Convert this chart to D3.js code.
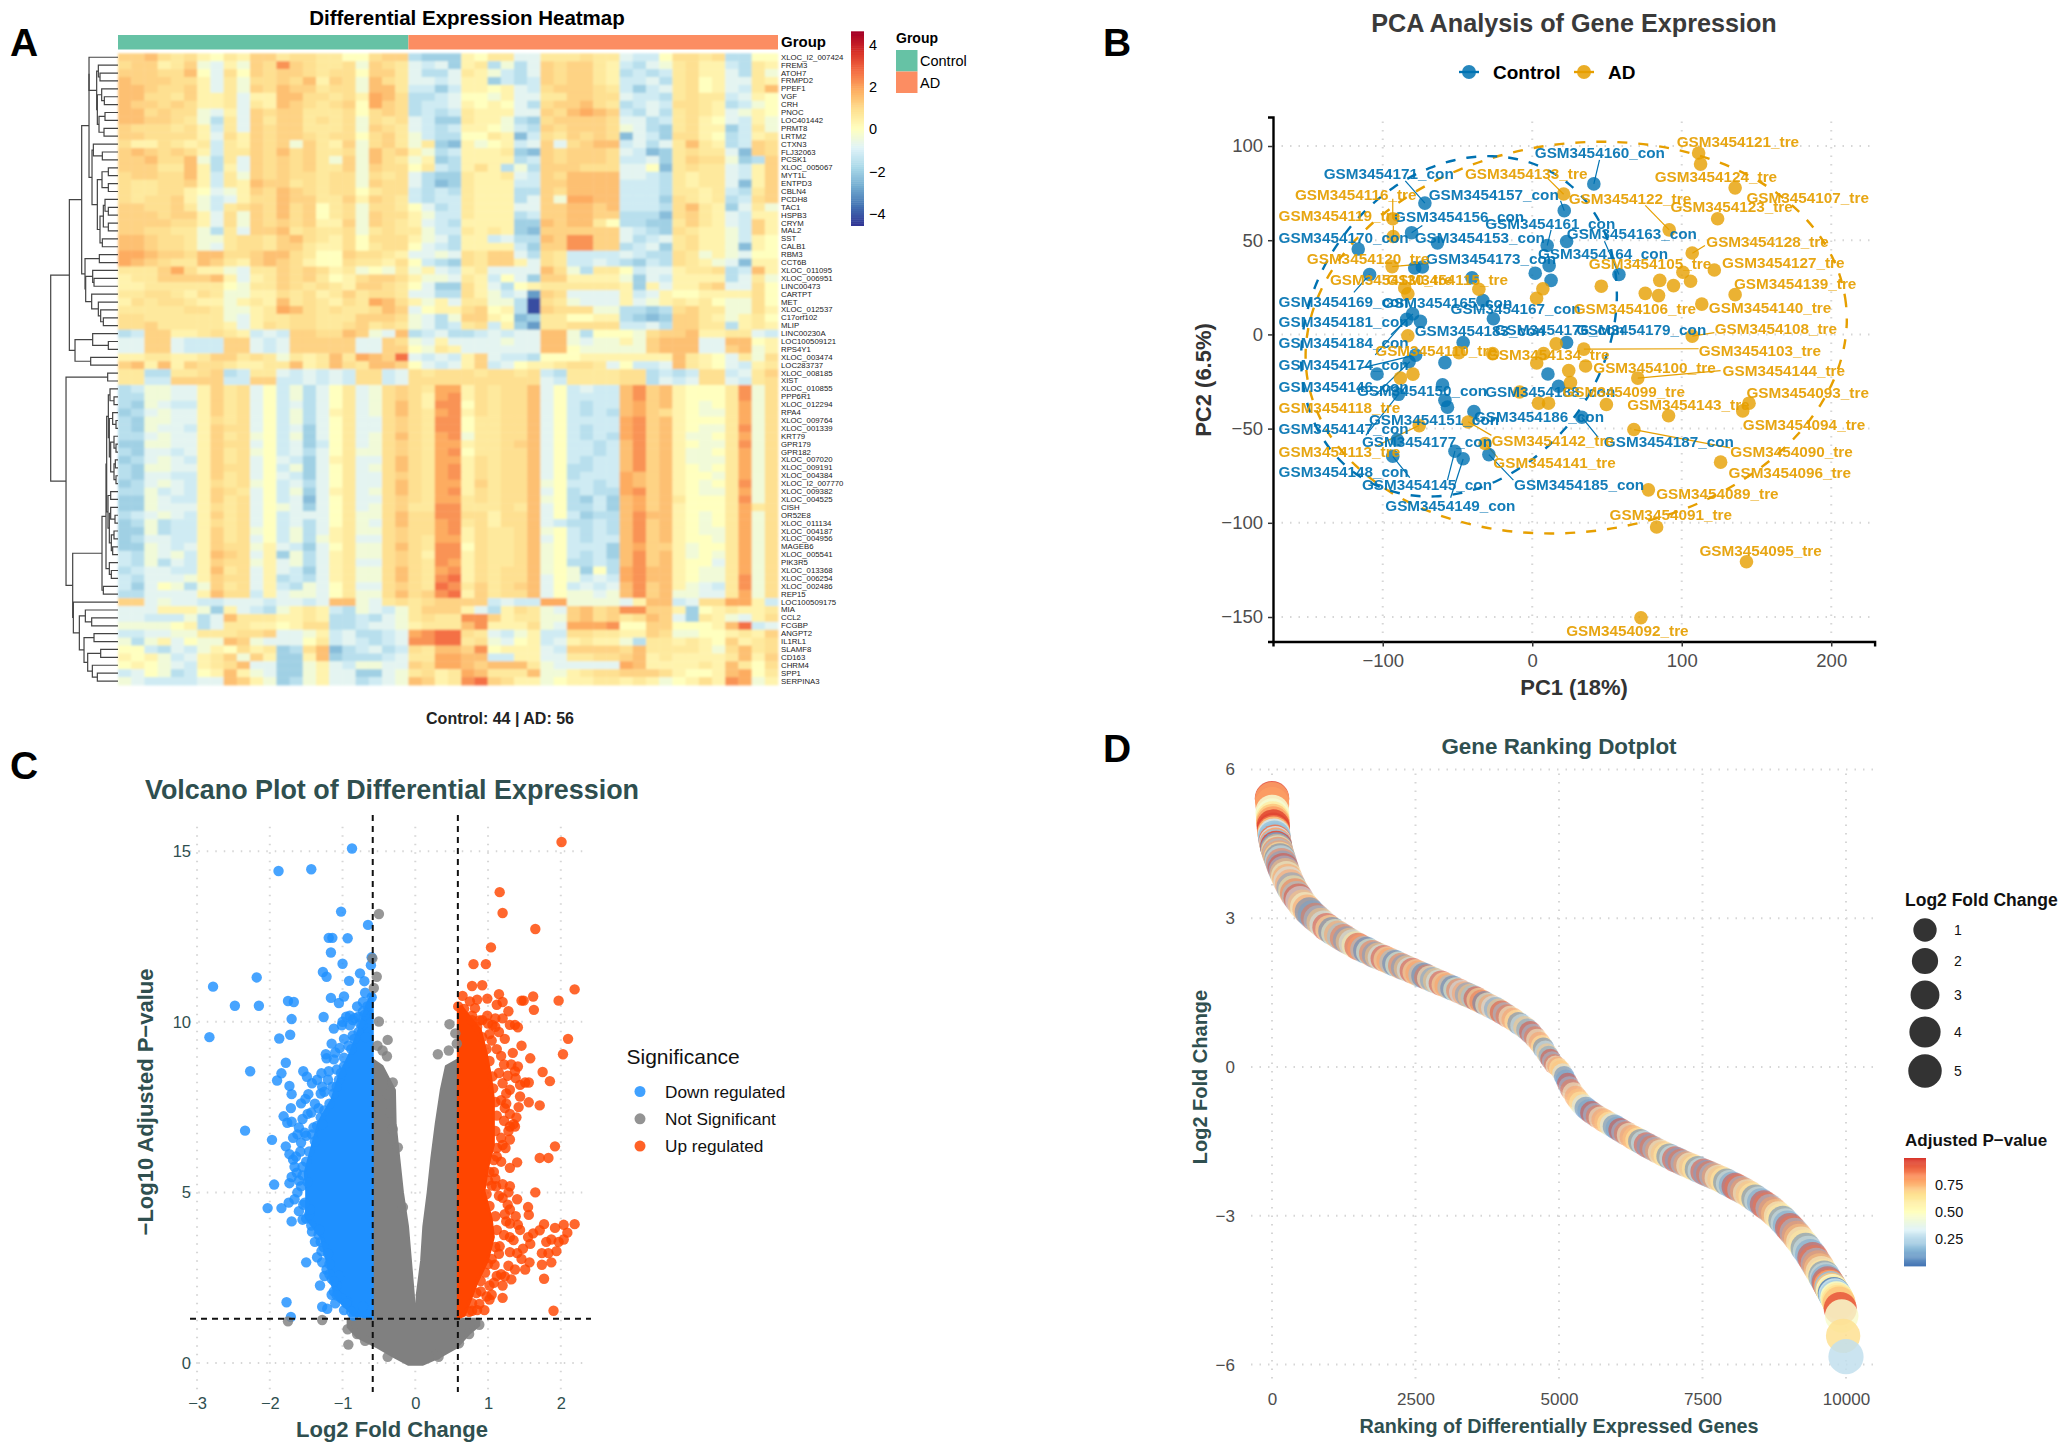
<!DOCTYPE html>
<html>
<head>
<meta charset="utf-8">
<script src="https://cdn.jsdelivr.net/npm/d3@7"></script>
<style>
html,body{margin:0;padding:0;background:#fff}
text{font-family:"Liberation Sans",Arial,sans-serif}
</style>
</head>
<body>
<svg id="fig" width="2065" height="1453" viewBox="0 0 2065 1453"></svg>
<script>
/* ---------- Panel A: heatmap ---------- */
const geneNames = ["XLOC_I2_007424","FREM3","ATOH7","FRMPD2","PPEF1","VGF","CRH","PNOC","LOC401442","PRMT8","LRTM2","CTXN3","FLJ32063","PCSK1","XLOC_005067","MYT1L","ENTPD3","CBLN4","PCDH8","TAC1","HSPB3","CRYM","MAL2","SST","CALB1","RBM3","CCT6B","XLOC_011095","XLOC_006951","LINC00473","CARTPT","MET","XLOC_012537","C17orf102","MLIP","LINC00230A","LOC100509121","RPS4Y1","XLOC_003474","LOC283737","XLOC_008185","XIST","XLOC_010855","PPP6R1","XLOC_012294","RPA4","XLOC_009764","XLOC_001339","KRT79","GPR179","GPR182","XLOC_007020","XLOC_009191","XLOC_004384","XLOC_I2_007770","XLOC_009382","XLOC_004525","CISH","OR52E8","XLOC_011134","XLOC_004187","XLOC_004956","MAGEB6","XLOC_005541","PIK3R5","XLOC_013368","XLOC_006254","XLOC_002486","REP15","LOC100509175","MIA","CCL2","FCGBP","ANGPT2","IL1RL1","SLAMF8","CD163","CHRM4","SPP1","SERPINA3"];
const heatCodes = "abcdefghijklmnopq";
const heatValues = [-4.2,-3,-2.4,-2,-1.6,-1.2,-.8,-.4,0,.35,.65,.9,1.15,1.5,1.85,2.2,2.7];
const heatRows = [
"mmnlkl jikj mmkllkkiilmm eddd jikk gg kkklkk gffi llkl ee ii",
"lmmjkm hgjh mlpmlkklhmlk gfgd jkeh eg mlmmkj fegh kljj fe kj",
"mmmlln igli mlmmlkllimmk geeg kjhf eg mlmmkj efef kljj ge kh",
"nmmmll jgkh llmlnjmlhnlk ggfg jjdf ef mlmmkj ffge klij gg kj",
"nnmllm jgkh mlnmmkllhnnk ffdf jjij gf lmmmlk fdfg klij gf kn",
"nnllkm jjkg jjnnllkljonl eefg iihj gg kkmmll gffe klkk fg ji",
"nmmlml jjkg kjnmlklmioml effg jiji ge lmmnlk efgf llkj ef hi",
"nnlmll hgjg mlmmkkklilml efef kjjj gg mlnonm fege klkj gh ji",
"nnmmlk hekg mkmmklklhlkl gfdd kjjh ed lmmmml ggef klji gf jh",
"mlllkl jfkg mlmmkkklhmlk gfef jjih fe mlmmml hged kljj df kh",
"mmllll jglj mlmmlkllilmk hfee iikj cf lkmlml cgfd llji ef jk",
"ljjlkj kfkj mlmhmkjmhlmk hkdc jhij fg mglmnn fgeg knkj ef ml",
"mnmlml jfkk mlnlmkklhnlm jhef jjjk dc mlmmml gfcd klkk gc ml",
"mmnlln hekg mlmlmkhmhnlk hjde jjjj ef mlmmml ffgd kmll hd em",
"mmmkkn jejg mlmlmkkmhmll ikfe jlje he mmmlll ggic klkk gf jm",
"lmmlln jfkh mlmllkllhlkl gedd kjjk gf mlnnnn ggfe kjkk gf jm",
"lkkllm jfkj nmmklkllhmll gecd kjjj ff mmnnnn fffe kjkk gc jm",
"lkkllj ighj mlnmlkllikll fefe kjjj ee mlnnnn fffe kkjk fe km",
"lkllmj hfgj llnmmkkmjmlk feff kjjj eg mhoonn fffd lkjk ef lm",
"mmllmk hfkl mlnlmiklhllk igef kjjj gg mmnnmn fffe lnkj dg kh",
"mmmlmm jglh mlnlmiklhmll jhff kjjj ef mmnnmm eeec lmkj gf jj",
"mmmmll jglh mlmlmjjmhmlk jgfe jjjj dd nmnnki eedd kmkj gf mj",
"mmllkk hekg mmnklkklhklk khff kjkj dc mmmmmm gfed lkjj hf mj",
"nnmllk hhkl lkmnlkjlilll jhge jjfg ee nmppmm gefg kljj hf ji",
"nnmllk hgkl lkmmkjjlikll igfe jjjj fd mmppmm efgd kljj hc ji",
"oonmml nnll mnnlkiimllkj gghg lkmm ge lkffff gfee lkhj hg ii",
"onmlkk nmkj mnmljiilkkjl ifed lkmm jg lkffgf edfe lkjh gc jj",
"kkkmol jjhg kkmlmljkhihk hjgf jkgg gg nlhekk ifgg jkkl ef nj",
"jkkmmm mnjg jkmlmkijlmml jhhg kjfi gd mmjjjj hdgf jjjj eg kh",
"jjkkkk kkih kkmlklkjmmlk igdd ljge ij kkkkkk jdjg jjlm gg li",
"kkllkj lkhh jjlkljkmkllk ggee ljhf gb mlgggg jfgj iijj jj li",
"jlkllk jjhj kjnklkjlkonl jhjg kkhh ea lkhggg jghj kjki hh li",
"kkkkkl lkhh jkonlklkklnm gijj lmij ea mlllhh eede lmkk hh lj",
"llkkkk kkhg jkkllkkkmmml hgeh mmji cd kkiijj edcd mmkj hj ki",
"llmkkk kkjg jlkllkklmklk hgef klfj db kkllll ffge mmkk ej kj",
"efmmjj klkj fgfmmllnmhgn efge efgf gg nnheii ihlm mnjj kk gf",
"ggmmgf ffmm gfgmmmmmggml hgjg gggh gg nnhghh jhmn nngg nn ij",
"ggmmgf ffmm gfgmmmmmggmm ihkj gggg gg nnihhh hhmn nngg mn hj",
"jjkkjj kmmk lkhkjknkonmq gfgf jmgf fe iiijjj jjjj nkji gk hl",
"mnjnjm llkj jkknjknlknnm igfg jmfg ij jkllkg iffg nkji gf jk",
"kkeekk lmef kkgfgfgfllfg lkll lkll kl fekkkk llef efll fg km",
"kkffmm mmff mmffgfgfllfg llll llll ll gfkkkk lleg fgll gf kl",
"efhhgg jmkl gifhegikghlm lkoo jlkl ln gifgff npmn jiii kp hl",
"eehhgg jmkl gifhegikghlm ljop jlkl ln giffff npmn jiii kp hl",
"edhgff jmkl gifgegikghln ljpp ilkl ln gifeff nomn jihi ko hl",
"deghgg jmkl gifhegjkghln lkop jlkl ln gifefe noml jihh ko hl",
"edhhgg jlkl gifhegikgglm lkpp ikkl ln giffff opmn jiii ko hl",
"edhggf jmll gifgdgikgglm lkpp ikkl ln gifeff opmn jihh kp hl",
"eeghgg jmkl hifhdgikghln lkop hkkl ln gifefe opmn jhhi ko hl",
"ddhhgg jmll gifgdfikghlm lkoo jkkl mn giffef npmn jihh kp hl",
"edggfg jmkl hifgegikhhlm lkop ikkl ln giffef npmn jhhi ko hl",
"deghgf jmkl gigfdgjkggln lkoo jlkl ln gifeff npmn jhhh ko hl",
"edhhgg jmll gifhdgikghln lkop jlkl ln gieeff npmn jihi ko hl",
"edggff jmkl gigfdgikgglm lkop jlkl ln giefff onmn jiih ko hl",
"deghgf jlkl hifgegikggln lkoo jmkl ln hiffef onmn jihi kp hl",
"eehfgf jmlk gifhdgjkghln lkop jlkl ln giefee opmn jihh ko hl",
"ddhgff jmkl gifgcgikgglm lkoo klkl ln hiedfd nomn kiii kp hl",
"ddhggg jlkl gihgdgikghlm kkpp kkkl kn gieefd nomn jiii ko kl",
"efghgf jmkl gifgggikhhln llpp lljl ln gifdee npnn jihi ko hl",
"deheff jlkl gifgegikhgln llop kljl ln gfeefe npmn jihi ko hl",
"ddheff jmkl hifhegjkhhlm llop jlkk ln hifefe npmn jihh ko hl",
"deggff jmkl gifhehjkgglm lkoo jlkk ln gifeff npmn jiih ko hl",
"ddhgfg jmll hjgfdgikhhln lkpp ilkk ln hifffd nomm jhii ko hl",
"fehghf jnml gjdhegjkhhlm ljpp jlkk ln hifefd npmn jhih ko hl",
"fehegf jmll hjghegjkgglm lkpo jlkk ln hieefe npmn jiig ko hl",
"efggff jnkl gjgfdgjkhhln lkop jlkl ln hihdie opnn jihh ko hl",
"fegggh jmll gjefegjkhhln lkpq jlkl ln gihfgf opnn jihh kp hl",
"fdgihe hmkl gjfehgikgglm lkqp kmkl mn gifgfg npmn jhgf kp hl",
"eegggg jnll fjghhgikhhln lmpq jmkl ln gihhgh npmn hhgg ko hl",
"mmghgg ffgg gfggfgnnhgkl klmm mmfg ff oohhhh gjnn fgll oo jf",
"gggjjj hdjg fehjkjfehgfh kmmm jgej lk hgmnlm ppmm jdij kj jk",
"ggfffh egnk kkjjkjeefegh klkk ppmj kk hhmnlm klnm gdkj hg jl",
"hhhhij egkk jjijlleefggh jkkk npjj jl hgooop iimm iiij nq fg",
"ffgghh kkkl lmgghjfgeefg opqq lkgf hj ffllkk jjml hhii jk jm",
"hehjgi hhnm hgggikfgfefg ppqq klhg ij fgjkjj hekk jkji mj kl",
"iifegf hjil jkdelncefgef lknn mpij jj gfmmmm lnkk kkjh ln kl",
"jijhfg jkmh mjddjndeeefg kkoo nnff jj ggkkll mnjk jjjj kn jm",
"ijihgf jkln ggddhjgfhhgg mloo nmnn nk hggggg onjj jjkj nk il",
"fgihef ijnj hgddhjggddgh kljk onkk kn hhjkll mmml jiij no ik",
"hgffff ggnm jhdehjggefgh nmjk pqml jj hijjkk jkjh ijlj po hj"
];
/* Dendrogram: [depth, upper, lower]; a number is a row index, leaves sit at depth 234 */
const dendro = [32,
 [88,
  [125,
   [147,
    [147,0,[170,[175,1,[180,2,3]],[172,[185,4,[193,5,6]],[177,[195,7,8],[192,9,10]]]]],
    [156,[160,11,[187,12,13]],[172,[186,[205,14,15],[205,16,17]],[180,[190,[195,18,[205,19,20]],[205,21,22]],[187,23,24]]]]],
   [135,[178,25,26],[137,[158,27,[162,28,29]],[155,30,[175,31,[182,32,[190,33,34]]]]]]],
  [105,[158,35,[205,36,37]],[152,38,39]]],
 [78,
  [203,40,41],
  [98,
   [186,
    [198,
     [200,
      [205,[210,42,[222,43,44]],[208,[218,45,[228,46,47]],[212,[222,48,[228,49,50]],[222,[226,51,52],[228,53,54]]]]],
      [204,[212,55,56],[208,[212,57,[225,58,59]],[214,[222,60,61],[218,62,63]]]]],
     [208,64,[214,65,66]]],
    [190,67,68]],
   [100,69,[118,[136,70,[155,71,72]],[132,[162,73,74],[143,[182,75,76],[157,77,[172,78,79]]]]]]]]];
const heatStops = ["#313695","#4575B4","#74ADD1","#ABD9E9","#E0F3F8","#FFFFBF","#FEE090","#FDAE61","#F46D43","#D73027","#A50026"];
const heatTicks = [-4,-2,0,2,4];
const groupNames = ["Control","AD"];
const groupColumns = [22,28];
const groupColors = ["#66C2A5","#FC8D62"];

/* ---------- Panel B: PCA ---------- */
const pcaControlPoints = [[41.2,79.9],[21.4,65.7],[-71.8,69.7],[-80.7,54],[-63.4,48.6],[-116.4,45.3],[10,47.2],[23,49.3],[11.3,36.5],[2,32.5],[12.6,28.7],[58,31.8],[-108.8,31.8],[-78.6,35.3],[-73.5,35.8],[-40.3,30.1],[-33,18],[-26,8.3],[-80,10.9],[-84,8],[-74.8,6.9],[-46.2,-4.3],[23,-4.3],[-78,-11],[-82.4,-14.5],[-58.4,-15],[-103.8,-21],[10.5,-21],[17.6,-27.5],[-60,-26.8],[-89.5,-31.8],[-58.4,-35],[-56.7,-38.6],[-39,-41],[33.2,-44],[-90.3,-56],[-93.3,-64.7],[-51.7,-62],[-46.2,-66],[-29,-63.8]];
const pcaADPoints = [[111.3,96.3],[112.6,90.4],[135.7,77.8],[124,61.4],[91.6,55.5],[107,43.2],[100.8,33],[121.8,34.2],[105.9,28.2],[85.3,28.7],[94.5,25.9],[46.2,25.6],[75.6,21.8],[84.5,20.6],[135.7,21.1],[113.4,16.1],[107,-.9],[21,74.5],[-93.3,61.4],[-93,52],[-93.7,36],[-35.7,24],[7.1,24.2],[2.9,19.2],[-85.3,24.7],[-83.2,21.6],[-83.2,-.7],[-49,-9.7],[-26.5,-10.2],[7.6,-10.2],[16,-5],[34.5,-7.8],[3,-15.2],[35.7,-16.8],[24.4,-19.2],[25.6,-25.6],[70.6,-23.2],[-88.2,-23.2],[-79.8,-21.1],[4.2,-36.5],[10.9,-36.5],[49.6,-37.2],[-8.4,-30.6],[91.2,-43.2],[145,-36.5],[140.8,-40.6],[68,-50.5],[126,-67.8],[77.7,-82.5],[83.2,-102.2],[143.3,-120.7],[72.7,-150.4],[-75.6,-48.4],[-42.9,-46.5],[-31.5,-57.9]];
const pcaControlLabels = [["GSM3454160_con",1.7,96.7],["GSM3454171_con",-139.5,85.5],["GSM3454157_con",-69.3,74.2],["GSM3454156_con",-92.4,62.8],["GSM3454161_con",-31.5,59],["GSM3454163_con",23.1,53.8],["GSM3454170_con",-169.7,51.7],["GSM3454153_con",-78.6,51.7],["GSM3454173_con",-71,40.5],["GSM3454164_con",3.8,42.9],["GSM3454169_con",-169.7,17.7],["GSM3454165_con",-100.4,17],["GSM3454167_con",-54.6,13.5],["GSM3454181_con",-169.7,6.8],["GSM3454183_con",-78.6,1.9],["GSM3454176_con",-25.2,2.4],["GSM3454179_con",29.4,2.6],["GSM3454184_con",-169.7,-4.5],["GSM3454174_con",-169.7,-15.9],["GSM3454146_con",-169.7,-27.5],["GSM3454150_con",-117.2,-29.9],["GSM3454188_con",-31.5,-30.5],["GSM3454151_con",-109.2,-45],["GSM3454186_con",-39,-43.4],["GSM3454147_con",-169.7,-50],["GSM3454177_con",-113.9,-56.6],["GSM3454187_con",47.9,-57.1],["GSM3454148_con",-169.7,-73],["GSM3454145_con",-113.9,-79.6],["GSM3454185_con",-12.2,-79.6],["GSM3454149_con",-98.3,-90.8]];
const pcaADLabels = [["GSM3454121_tre",96.6,102.5],["GSM3454124_tre",81.9,83.6],["GSM3454133_tre",-45,85.3],["GSM3454107_tre",143.3,72.7],["GSM3454122_tre",24.4,72.2],["GSM3454123_tre",92.4,67.8],["GSM3454116_tre",-158.7,74.2],["GSM3454119_tre",-169.7,63],["GSM3454128_tre",116.4,49.5],["GSM3454120_tre",-150.8,40.5],["GSM3454105_tre",37.8,37.7],["GSM3454127_tre",127,38.2],["GSM3454139_tre",134.9,27],["GSM3454130_tre",-135.3,29.1],["GSM3454115_tre",-97.5,29.1],["GSM3454106_tre",27.7,13.7],["GSM3454140_tre",118.1,14.2],["GSM3454108_tre",122,2.9],["GSM3454103_tre",111.3,-8.3],["GSM3454110_tre",-105,-8.5],["GSM3454134_tre",-30.3,-10.7],["GSM3454100_tre",40.8,-17.3],["GSM3454144_tre",127.3,-19.4],["GSM3454099_tre",20.2,-30.3],["GSM3454093_tre",143.3,-30.8],["GSM3454118_tre",-169.7,-38.9],["GSM3454143_tre",63.5,-37],["GSM3454094_tre",140.8,-48],["GSM3454142_tre",-27.3,-56.4],["GSM3454090_tre",132.5,-61.9],["GSM3454113_tre",-169.7,-61.9],["GSM3454141_tre",-26,-68.2],["GSM3454096_tre",131.3,-73.5],["GSM3454089_tre",82.9,-84.6],["GSM3454091_tre",51.7,-95.8],["GSM3454095_tre",111.8,-114.7],["GSM3454092_tre",22.7,-156.9]];
const pcaControlLeaders = [[45,92.7,41.2,79.9],[-84.9,81.5,-71.8,69.7],[18.9,70.9,21.4,65.7],[-73.5,57.8,-80.7,54],[12.6,55.5,10,47.2],[48.3,49.5,58,31.8],[-119.3,22.3,-108.8,31.8],[-94.5,-.2,-79.8,10.9],[-105,-10.9,-84,8],[-115.5,-18,-77.7,-10.9],[-105,-32.2,-81.9,-14.5],[-111.3,-53.6,-89.5,-31.8],[-81.9,-76,-93.3,-64.7],[-54.6,-86.7,-46.2,-66.1],[-12.6,-77.3,-29,-63.8],[44.1,-54.7,33.2,-44.1],[-56.7,-77.3,-51.7,-61.8]];
const pcaADLeaders = [[10.5,82.7,21,74.4],[75.6,68.5,91.6,55.5],[-93.3,72,-93.3,61.4],[-92.9,57.8,-92.9,51.9],[115.5,47.2,107.1,43.1],[111.3,-7.6,34.5,-7.8],[126,-19.2,70.6,-23.2],[121.8,.9,107.1,-.9],[132.4,-60.2,68.1,-50.5],[-27.3,-53.6,-42.9,-46.4],[-23.1,-65.4,-31.5,-57.8],[-105,-59.5,-75.6,-48.3],[-69.3,37.7,-93.7,36]];
/* Ellipses: centre x, centre y, x extent, y-on-x shear, y extent */
const pcaControlEllipse = [-49,4.3,105.6,17,88.7];
const pcaADEllipse = [29.4,-1.7,181,9.8,103.5];
const pcaXTicks = [-100,0,100,200];
const pcaYTicks = [-150,-100,-50,0,50,100];

/* ---------- Panel C: volcano ---------- */
const volcanoDownDots = [[-.87,15.08],[-1.88,14.42],[-1.43,14.47],[-1.02,13.23],[-.65,12.84],[-1.19,12.46],[-1.14,12.46],[-.93,12.45],[-1.16,12.03],[-1,11.7],[-.6,11.89],[-.61,11.66],[-1.27,11.46],[-1.22,11.32],[-.76,11.42],[-.91,11.2],[-.7,11.19],[-1.16,10.7],[-.98,10.74],[-1.05,10.55],[-2.78,11.03],[-2.18,11.3],[-2.48,10.47],[-2.15,10.47],[-1.75,10.61],[-1.67,10.58],[-1.7,10.08],[-1.26,10.14],[-2.83,9.55],[-1.87,9.51],[-1.72,9.62],[-2.27,8.55],[-1.78,8.8],[-1.84,8.49],[-1.9,8.28],[-1.54,8.55],[-1.49,8.39],[-1.23,9.05],[-1.22,8.93],[-1.73,8.12],[-1.7,7.88],[-2.34,6.81],[-1.97,6.54],[-1.81,7.23],[-1.76,7.04],[-1.71,7.47],[-1.7,7.07],[-1.51,7.74],[-1.47,7.88],[-1.29,8.49],[-1.19,8.55],[-1.25,7.95],[-1.94,5.23],[-1.73,5.27],[-2.03,4.54],[-1.84,4.54],[-1.74,4.7],[-1.7,4.15],[-1.5,2.95],[-1.31,2.27],[-1.77,1.78],[-1.71,1.35],[-1.28,1.65],[-1.21,1.59],[-1.78,6.35],[-1.73,6.12],[-1.68,5.96],[-1.63,5.58],[-1.57,5.18],[-1.54,4.64],[-1.5,4.23],[-1.43,4.03],[-1.33,3.76],[-1.29,3.28],[-1.22,2.74],[-1.15,2.47],[-1.08,2.27],[-1.15,2],[-.94,1.8],[-.85,1.39],[-.72,1.66],[-.8,10.45],[-.72,10.58],[-.6,10.72],[-.9,9.9],[-1.01,9.9],[-1.12,9.8],[-1.15,9.36],[-1.04,9.23],[-.9,10.18],[-.83,10.11],[-.73,9.9],[-.66,10.45],[-.69,10.85],[-1.43,7.34],[-1.57,7.61],[-1.33,7.47],[-1.5,6.66],[-1.57,6.46],[-1.64,6.05],[-1.42,8.2],[-1.35,8.3],[-1.3,7.9],[-1.38,7.6],[-1.48,7.3],[-1.55,7.15],[-1.6,6.9],[-1.62,6.7],[-1.68,6.6],[-1.58,6.2],[-1.66,5.75],[-1.7,5.45],[-1.62,5],[-1.66,4.8],[-1.6,4.45],[-1.55,4.2],[-1.46,4.35],[-1.42,3.85],[-1.38,3.55],[-1.3,3.55],[-1.35,3.1],[-1.28,2.95],[-1.25,2.55],[-1.18,2.9],[-1.12,2.1],[-1.05,2.55],[-1.02,1.9],[-.98,1.55],[-1.1,1.75],[-1.12,8.9],[-1.08,8.6],[-.98,9.5],[-.92,9.3],[-.86,9.6],[-.78,9.7],[-.68,9.55],[-1.2,8.3],[-1.28,8.1],[-1.14,8.1],[-1.05,8.3],[-.98,8.7],[-1.35,6.95],[-1.42,6.7],[-1.3,7.2],[-1.52,6.75],[-1.55,5.75],[-1.6,5.35],[-1.1,9.1],[-1,10],[-.95,10.15],[-.86,10.05],[-.78,10.15],[-.7,10.2],[-1.45,4.5],[-1.52,4.7],[-1.48,5.3],[-1.55,5.5],[-1.5,5.9],[-1.46,6.2],[-1.38,6.5],[-1.4,6.9],[-1.28,7],[-1.25,7.4],[-1.18,7.6],[-1.12,7.9],[-1.08,8.1],[-1.02,8.5],[-.98,8.95],[-.88,9.2],[-.84,9.5],[-.76,9.95],[-.72,10.3],[-1.32,3.9],[-1.26,3.4],[-1.2,3.2],[-1.18,2.6],[-1.12,2.4],[-1.08,1.98],[-.95,1.75],[-.88,1.5]];
const volcanoGrayDots = [[-.5,13.16],[-.59,11.86],[-.53,11.32],[-.57,10.99],[-.5,10.01],[-.38,9.47],[-.52,9.3],[-.45,9.16],[-.39,8.99],[.31,9.05],[.46,9.16],[.57,9.36],[.47,9.93],[.55,9.66],[-1.75,1.22],[-1.28,1.26],[-.92,.54],[-.31,8.22],[-.38,7.88],[-.34,7.34],[-.31,6.86],[-.24,6.32],[-.17,4.57],[-.93,.99],[-.8,.85],[-.69,.65],[.88,1.12],[.74,.85],[.6,.58],[.29,.24],[.32,.18],[-.38,.18]];
const volcanoUpDots = [[2.01,15.27],[1.16,13.8],[1.2,13.19],[1.65,12.72],[1.04,12.18],[.8,11.69],[.97,11.69],[.78,11.05],[.92,11.07],[.65,10.76],[.85,10.65],[.99,10.68],[1.15,10.81],[1.2,10.58],[1.46,10.62],[1.49,10.62],[1.62,10.74],[2.19,10.95],[1.97,10.62],[1.63,10.35],[.59,10.45],[.67,10.38],[1.28,10.31],[1.37,9.91],[1.41,9.84],[2.1,9.5],[2.03,9.05],[1.58,8.93],[1.46,9.3],[1.75,8.53],[1.85,8.26],[1.51,8.22],[1.56,8.22],[1.44,8.15],[1.44,7.81],[1.56,7.64],[1.71,7.55],[1.39,7.2],[1.37,6.93],[1.92,6.35],[1.71,6.01],[1.83,6.01],[1.4,5.88],[1.2,5.24],[1.3,5.18],[1.11,5.18],[1.65,5],[1.4,4.8],[1.2,4.84],[1.27,4.64],[1.55,4.57],[1.56,4.34],[1.23,4.36],[1.41,4.05],[1.3,4.09],[2.19,4.07],[2.04,4.05],[1.92,3.96],[1.77,4.07],[1.71,3.89],[1.62,3.8],[1.55,3.69],[2.09,3.82],[2.04,3.62],[1.97,3.55],[1.87,3.62],[1.8,3.55],[1.58,3.49],[1.48,3.35],[1.4,3.22],[1.94,3.28],[1.83,3.22],[1.74,3.22],[1.87,2.95],[1.74,2.88],[1.57,2.95],[1.51,2.74],[1.37,2.74],[1.77,2.47],[1.23,2.54],[1.2,2.27],[1.02,2.27],[1.2,1.91],[1.02,1.86],[1.9,1.53],[.88,1.73],[.78,1.53],[1.16,3.42],[1.3,3.69],[1.09,2.88],[1.3,5.72],[1.2,6.39],[1.3,6.93],[1.23,7.47],[1.3,8.01],[1.37,8.55],[1.34,9.09],[1.23,9.5],[1.3,9.91],[1.41,8.69],[1.27,8.42],[1.02,9.64],[.88,10.04],[.78,10.18],[1.06,9.91],[.99,10.18],[1.15,9.7],[1.1,9.85],[1.05,9.45],[1.12,9.2],[1.18,9],[1.22,8.75],[1.15,8.5],[1.2,8.2],[1.25,7.9],[1.18,7.7],[1.25,7.6],[1.3,7.3],[1.22,7.1],[1.28,6.8],[1.18,6.6],[1.24,6.3],[1.12,6.05],[1.18,5.9],[1.08,5.6],[1.1,5.4],[1.05,5.2],[1.28,5],[1.15,4.9],[1.3,4.5],[1.38,4.3],[1.25,4.15],[1.44,3.9],[1.35,3.6],[1.22,3.75],[1.46,3.05],[1.3,3.25],[1.28,2.85],[1.15,3.2],[1.32,2.45],[1.12,2.55],[1.18,2.6],[1.08,2.35],[1.05,2],[.98,1.95],[.9,2.1],[.85,1.55],[.95,1.55],[1.38,8.35],[1.32,8.75],[1.42,7.5],[1.35,7],[1.3,6.55],[.92,10.05],[1,9.95],[1.1,10.1],[1.2,10.1],[1.12,10.5],[.75,10.6],[.82,10.4],[1.1,3.4],[1.05,3.05],[1.12,3.9],[1.1,4.3],[1.02,4.6],[.98,4.95],[1,5.35],[1.02,5.6],[1.08,5.95],[1.12,6.3],[1.1,6.8],[1.12,7.25],[1.1,7.65],[1.07,8.05],[1.06,8.4],[1.02,8.85],[.98,9.2],[.92,9.55],[.85,9.85],[.78,10.05],[1,2.9],[.96,2.65],[.9,2.4],[.84,2.05],[.78,1.75],[.74,1.5]];
/* Outlines of the solid regions where points overlap completely: [log2FC, -log10 p] */
const volcanoDownMass = [[-.585,1.3],[-.85,1.39],[-1.1,1.93],[-1.15,2.34],[-1.22,3.01],[-1.3,3.69],[-1.5,4.23],[-1.5,5.04],[-1.52,5.58],[-1.42,6.39],[-1.33,7.07],[-1.15,7.74],[-1.05,8.42],[-.9,9.09],[-.78,9.77],[-.68,10.45],[-.6,10.85],[-.585,10.85]];
const volcanoUpMass = [[.585,1.3],[.68,1.39],[.85,2.34],[1.0,3.01],[1.08,3.69],[1.05,4.23],[.95,5.04],[1,5.72],[1.08,6.39],[1.08,7.07],[1.08,7.74],[1.04,8.42],[.98,9.09],[.9,9.77],[.74,10.18],[.64,10.45],[.585,10.45]];
const volcanoGrayMass = [[-.585,8.9],[-.45,8.7],[-.28,8],[-.27,7],[-.22,6],[-.17,5],[-.1,4],[-.06,3],[-.02,2],[0,1.2],[.02,2],[.08,3],[.11,4],[.17,5],[.22,6],[.28,7],[.35,8],[.42,8.7],[.585,8.9],[.585,1.3],[.88,1.3],[.88,1.1],[.74,.85],[.57,.45],[.32,.15],[.1,-.05],[-.1,-.05],[-.3,.18],[-.52,.45],[-.8,.75],[-.93,1.05],[-.93,1.3],[-.585,1.3]];
const volcanoXTicks = [-3,-2,-1,0,1,2];
const volcanoYTicks = [0,5,10,15];
const volcanoLegend = ["Down regulated","Not Significant","Up regulated"];
const volcanoColors = ["#1E90FF","#808080","#FF4500"];
const fcCutoff = 0.585;
const pCutoff = 1.3;

/* ---------- Panel D: ranked dots ---------- */
const rankValues = [0,1,3,6,9,12,15,18,21,24,27,30,35,40,45,50,55,60,66,72,78,85,92,100,110,120,130,140,150,165,180,195,210,230,250,270,290,315,340,370,400,430,460,490,530,570,610,650,700,750,800,850,900,950,1000,1050,1100,1150,1200,1250,1300,1350,1400,1450,1500,1550,1600,1650,1700,1750,1800,1850,1900,1950,2000,2050,2100,2150,2200,2250,2300,2350,2400,2450,2500,2550,2600,2650,2700,2750,2800,2850,2900,2950,3000,3050,3100,3150,3200,3250,3300,3350,3400,3450,3500,3550,3600,3650,3700,3750,3800,3850,3900,3950,4000,4050,4100,4150,4200,4250,4300,4350,4400,4450,4500,4540,4580,4620,4660,4700,4730,4760,4790,4820,4850,4880,4910,4940,4970,5000,5030,5060,5090,5120,5150,5180,5210,5250,5290,5330,5370,5420,5470,5520,5570,5620,5670,5720,5770,5820,5870,5920,5970,6020,6070,6120,6170,6220,6270,6320,6370,6420,6470,6520,6570,6620,6670,6720,6770,6820,6870,6920,6970,7020,7070,7120,7170,7220,7270,7320,7370,7420,7470,7520,7570,7620,7670,7720,7770,7820,7870,7920,7970,8020,8070,8120,8170,8220,8270,8320,8370,8420,8470,8520,8570,8620,8670,8720,8770,8820,8860,8900,8940,8980,9020,9060,9100,9140,9180,9220,9260,9300,9340,9380,9420,9450,9480,9510,9540,9570,9600,9620,9640,9660,9680,9700,9715,9730,9745,9760,9775,9790,9805,9820,9835,9850,9865,9880,9900,9925,9950,10000];
const rankLfc = [5.42,5.4,5.3,5.15,5.08,5.02,4.97,4.92,4.86,4.8,4.75,4.72,4.68,4.64,4.6,4.56,4.53,4.5,4.47,4.44,4.41,4.38,4.35,4.32,4.29,4.25,4.22,4.19,4.15,4.1,4.05,4,3.95,3.9,3.84,3.79,3.74,3.68,3.62,3.56,3.5,3.45,3.4,3.35,3.28,3.23,3.18,3.13,3.07,3.02,2.97,2.92,2.87,2.82,2.78,2.74,2.7,2.67,2.63,2.6,2.56,2.53,2.5,2.46,2.43,2.4,2.37,2.35,2.32,2.29,2.26,2.24,2.21,2.19,2.16,2.14,2.11,2.09,2.06,2.04,2.01,1.99,1.96,1.94,1.91,1.89,1.86,1.84,1.81,1.79,1.76,1.74,1.71,1.69,1.66,1.64,1.61,1.59,1.56,1.54,1.51,1.48,1.46,1.43,1.41,1.38,1.35,1.32,1.29,1.26,1.23,1.2,1.17,1.14,1.1,1.07,1.03,1,.96,.92,.88,.84,.8,.75,.7,.65,.6,.55,.49,.43,.38,.32,.27,.22,.16,.11,.06,.03,.01,-.02,-.07,-.13,-.19,-.26,-.33,-.4,-.46,-.53,-.6,-.66,-.72,-.78,-.83,-.88,-.92,-.96,-1,-1.03,-1.07,-1.1,-1.14,-1.17,-1.2,-1.24,-1.27,-1.31,-1.34,-1.37,-1.41,-1.44,-1.47,-1.5,-1.53,-1.57,-1.6,-1.63,-1.66,-1.69,-1.72,-1.75,-1.78,-1.8,-1.83,-1.86,-1.88,-1.91,-1.94,-1.96,-1.99,-2.01,-2.04,-2.06,-2.09,-2.11,-2.14,-2.16,-2.19,-2.21,-2.24,-2.26,-2.29,-2.32,-2.35,-2.38,-2.41,-2.44,-2.47,-2.5,-2.54,-2.57,-2.61,-2.65,-2.69,-2.73,-2.77,-2.81,-2.85,-2.9,-2.95,-3,-3.04,-3.09,-3.14,-3.19,-3.24,-3.29,-3.34,-3.4,-3.46,-3.52,-3.58,-3.65,-3.71,-3.78,-3.84,-3.9,-3.96,-4.01,-4.07,-4.13,-4.19,-4.22,-4.26,-4.3,-4.34,-4.38,-4.41,-4.44,-4.47,-4.5,-4.53,-4.56,-4.59,-4.62,-4.65,-4.68,-4.72,-4.76,-4.87,-5.02,-5.42,-5.84];
const rankPDigits = "9774456799863228372916482750381926473715829364701826395047281635972048163957204816395720841639572048371629580473169284750361928475036192847563019284765301928476530192847650391827465039182746503918274650319827465031982764503198276450319827645031987264503198726453019827465301982746530187264530187264530817264530817264355417625331726942865";
const pDigitValues = [.03,.1,.18,.3,.45,.6,.72,.8,.88,.96];
const rankTailP = [.22,.5,.6,.66,.72,.93,.46,.66,.27];
const rankColorStops = ["#4575B4","#91BFDB","#E0F3F8","#FFFFBF","#FEE090","#FC8D59","#D73027"];
const rankXTicks = [0,2500,5000,7500,10000];
const rankYTicks = [-6,-3,0,3,6];
const sizeLegendValues = [1,2,3,4,5];
const pLegendTicks = [.25,.5,.75];

/* ---------- drawing ---------- */
const svg = d3.select("#fig");
const defs = svg.append("defs");
defs.append("filter").attr("id","soft").attr("x","-2%").attr("y","-2%").attr("width","104%").attr("height","104%")
  .append("feGaussianBlur").attr("stdDeviation",0.9);
const TEAL = "#2F4F4F";

function text(g,x,y,s,o={}){
  const t = g.append("text").attr("x",x).attr("y",y).attr("dominant-baseline","central")
    .attr("font-size",o.size||14).attr("fill",o.fill||"#000").attr("text-anchor",o.anchor||"start").text(s);
  if(o.bold) t.attr("font-weight","bold");
  if(o.rotate) t.attr("transform",`rotate(${o.rotate},${x},${y})`);
  return t;
}
for(const [s,x,y] of [["A",24,42],["B",1117,42],["C",24,765],["D",1117,748]])
  text(svg,x,y,s,{size:39,bold:true,anchor:"middle"});

/* A */
(function(){
  const g = svg.append("g");
  const nCols = 50, nRows = heatRows.length;
  const X = d3.scaleBand().domain(d3.range(nCols)).range([118,778]);
  const Y = d3.scaleBand().domain(d3.range(nRows)).range([53.3,685]);
  const stopDomain = heatStops.map((_,i)=>-4.55+9.1*i/(heatStops.length-1));
  const color = d3.scaleLinear().domain(stopDomain).range(heatStops).interpolate(d3.interpolateRgb);
  const lookup = new Map([...heatCodes].map((c,i)=>[c,heatValues[i]]));
  const cells = [];
  heatRows.forEach((row,r)=>{
    const s = row.replace(/ /g,"");
    for(let c=0;c<nCols;c++) cells.push({r,c,v:lookup.get(s[c]) ?? 0});
  });
  g.append("g").attr("filter","url(#soft)").selectAll("rect").data(cells).join("rect")
    .attr("x",d=>X(d.c)).attr("y",d=>Y(d.r)).attr("width",X.bandwidth()+.4).attr("height",Y.bandwidth()+.4)
    .attr("fill",d=>color(d.v));
  let start = 0;
  groupNames.forEach((name,i)=>{
    g.append("rect").attr("x",X(start)).attr("y",35).attr("height",14.5)
      .attr("width",X.bandwidth()*groupColumns[i]).attr("fill",groupColors[i]);
    start += groupColumns[i];
  });
  g.selectAll("text.gene").data(geneNames).join("text").attr("class","gene")
    .attr("x",781).attr("y",(d,i)=>Y(i)+Y.bandwidth()/2).attr("dominant-baseline","central")
    .attr("font-size",7.8).attr("fill","#222").text(d=>d);
  text(g,467,17,"Differential Expression Heatmap",{size:20.5,bold:true,anchor:"middle"});
  text(g,781,41,"Group",{size:15,bold:true});
  text(g,500,718,"Control: 44 | AD: 56",{size:16,bold:true,anchor:"middle",fill:"#222"});
  /* dendrogram */
  const D = d3.scaleLinear().domain([32,234]).range([50.7,118]);
  const tree = g.append("g").attr("fill","none").attr("stroke","#444").attr("stroke-width",1.2);
  function walk(n){
    if(typeof n==="number") return {x:D(234),y:Y(n)+Y.bandwidth()/2};
    const a=walk(n[1]), b=walk(n[2]), x=D(n[0]);
    tree.append("path").attr("d",`M${a.x},${a.y}H${x}V${b.y}H${b.x}`);
    return {x,y:(a.y+b.y)/2};
  }
  walk(dendro);
  /* colour bar */
  const barY = d3.scaleLinear().domain([4.57,-4.55]).range([33,225.5]);
  g.selectAll("rect.bar").data(d3.range(-4.55,4.57,.1)).join("rect").attr("class","bar")
    .attr("x",851).attr("width",13).attr("y",d=>barY(d+.1)).attr("height",d=>barY(d)-barY(d+.1)+.5).attr("fill",d=>color(d));
  heatTicks.forEach(t=>text(g,869,barY(t),d3.format("")(t),{size:14.5}));
  text(g,896,38,"Group",{size:14,bold:true});
  groupNames.forEach((name,i)=>{
    g.append("rect").attr("x",896).attr("y",50+21.5*i).attr("width",21.5).attr("height",21.5).attr("fill",groupColors[i]);
    text(g,920,61+21.5*i,name,{size:14.5});
  });
})();

/* shared dotted grid */
function dottedGrid(g,xs,ys,X,Y){
  const grid = g.append("g").attr("stroke","#d6d6d6").attr("stroke-width",2).attr("stroke-dasharray","1.5,7");
  const [x0,x1]=X.range(), [y0,y1]=Y.range();
  xs.forEach(t=>grid.append("line").attr("x1",X(t)).attr("x2",X(t)).attr("y1",y0).attr("y2",y1));
  ys.forEach(t=>grid.append("line").attr("y1",Y(t)).attr("y2",Y(t)).attr("x1",x0).attr("x2",x1));
}
function axes(g,X,Y,xTicks,yTicks,o){
  const fmt = d3.format("d");
  const ax = g.append("g").attr("transform",`translate(0,${o.xAt})`)
    .call(d3.axisBottom(X).tickValues(xTicks).tickFormat(fmt).tickSize(o.tick||0).tickPadding(o.padX));
  const ay = g.append("g").attr("transform",`translate(${o.yAt},0)`)
    .call(d3.axisLeft(Y).tickValues(yTicks).tickFormat(fmt).tickSize(o.tick||0).tickPadding(o.padY));
  for(const a of [ax,ay]){
    a.selectAll("text").attr("font-size",o.size).attr("fill",o.fill).attr("font-family",'"Liberation Sans"');
    a.selectAll("line").attr("stroke","#333").attr("stroke-width",1.5);
    if(o.line) a.select(".domain").attr("stroke","#000").attr("stroke-width",2.4);
    else a.select(".domain").remove();
  }
}

/* B */
(function(){
  const g = svg.append("g");
  const X = d3.scaleLinear().domain([-173.4,229]).range([1273,1874.6]);
  const Y = d3.scaleLinear().domain([-163,115.4]).range([641.5,117]);
  dottedGrid(g,pcaXTicks,pcaYTicks,X,Y);
  const colors = ["#0072B2","#E69F00"];
  const ell = (e,c)=>{
    const line = d3.line().x(t=>X(e[0]+e[2]*Math.cos(t))).y(t=>Y(e[1]+e[3]*Math.cos(t)+e[4]*Math.sin(t))).curve(d3.curveCardinalClosed);
    g.append("path").attr("d",line(d3.range(0,2*Math.PI,.08))).attr("fill","none").attr("stroke",c)
      .attr("stroke-width",2.4).attr("stroke-dasharray","10,11");
  };
  ell(pcaADEllipse,colors[1]);
  ell(pcaControlEllipse,colors[0]);
  [[pcaControlLeaders,0],[pcaADLeaders,1]].forEach(([L,i])=>{
    g.append("g").selectAll("line").data(L).join("line").attr("x1",d=>X(d[0])).attr("y1",d=>Y(d[1])).attr("x2",d=>X(d[2])).attr("y2",d=>Y(d[3]))
      .attr("stroke",colors[i]).attr("stroke-width",1.2);
  });
  [[pcaControlPoints,0],[pcaADPoints,1]].forEach(([P,i])=>{
    g.append("g").selectAll("circle").data(P).join("circle").attr("cx",d=>X(d[0])).attr("cy",d=>Y(d[1])).attr("r",6.8)
      .attr("fill",colors[i]).attr("opacity",.8);
  });
  [[pcaControlLabels,0],[pcaADLabels,1]].forEach(([L,i])=>{
    g.append("g").selectAll("text").data(L).join("text").attr("x",d=>X(d[1])).attr("y",d=>Y(d[2])).attr("dominant-baseline","central")
      .attr("font-size",15.3).attr("font-weight","bold").attr("fill",colors[i]).attr("opacity",.92).text(d=>d[0]);
  });
  axes(g,X,Y,pcaXTicks,pcaYTicks,{xAt:641.5,yAt:1273,tick:5,padX:7,padY:5,size:18.5,fill:"#4d4d4d",line:true});
  text(g,1574,23,"PCA Analysis of Gene Expression",{size:25.2,bold:true,anchor:"middle",fill:"#3a3a3a"});
  text(g,1574,687,"PC1 (18%)",{size:22,bold:true,anchor:"middle",fill:"#333"});
  text(g,1203,380,"PC2 (6.5%)",{size:22,bold:true,anchor:"middle",fill:"#333",rotate:-90});
  [[1469,1493,"Control",0],[1584,1608,"AD",1]].forEach(([dx,lx,s,i])=>{
    g.append("line").attr("x1",dx-10).attr("x2",dx+10).attr("y1",72).attr("y2",72).attr("stroke",colors[i]).attr("stroke-width",2.4);
    g.append("circle").attr("cx",dx).attr("cy",72).attr("r",7).attr("fill",colors[i]).attr("opacity",.85);
    text(g,lx,72,s,{size:19,bold:true});
  });
})();

/* C */
(function(){
  const g = svg.append("g");
  const X = d3.scaleLinear().domain([-3.1,2.39]).range([415.3-3.1*72.75,415.3+2.39*72.75]);
  const Y = d3.scaleLinear().domain([-.77,15.9]).range([1363+.77*34.12,1363-15.9*34.12]);
  dottedGrid(g,volcanoXTicks,volcanoYTicks,X,Y);
  const poly = d3.line().x(d=>X(d[0])).y(d=>Y(d[1]));
  const mass = (d,c)=>g.append("path").attr("d",poly(d)+"Z").attr("fill",c).attr("stroke",c).attr("stroke-width",2).attr("stroke-linejoin","round");
  mass(volcanoGrayMass,volcanoColors[1]);
  mass(volcanoDownMass,volcanoColors[0]);
  mass(volcanoUpMass,volcanoColors[2]);
  [[volcanoDownDots,0],[volcanoGrayDots,1],[volcanoUpDots,2]].forEach(([P,i])=>{
    g.append("g").selectAll("circle").data(P).join("circle").attr("cx",d=>X(d[0])).attr("cy",d=>Y(d[1])).attr("r",5.2)
      .attr("fill",volcanoColors[i]).attr("opacity",.82);
  });
  const dash = g.append("g").attr("stroke","#111").attr("stroke-width",2).attr("stroke-dasharray","6,5");
  [-fcCutoff,fcCutoff].forEach(v=>dash.append("line").attr("x1",X(v)).attr("x2",X(v)).attr("y1",815).attr("y2",1392));
  dash.append("line").attr("x1",190).attr("x2",591).attr("y1",Y(pCutoff)).attr("y2",Y(pCutoff));
  axes(g,X,Y,volcanoXTicks,volcanoYTicks,{xAt:1392,yAt:190,tick:0,padX:5,padY:-1,size:16.5,fill:TEAL,line:false});
  text(g,392,790,"Volcano Plot of Differential Expression",{size:26.9,bold:true,anchor:"middle",fill:TEAL});
  text(g,392,1429,"Log2 Fold Change",{size:22,bold:true,anchor:"middle",fill:TEAL});
  text(g,145,1102,"\u2212Log10 Adjusted P\u2212value",{size:22,bold:true,anchor:"middle",fill:TEAL,rotate:-90});
  text(g,626.5,1056,"Significance",{size:21,fill:"#111"});
  volcanoLegend.forEach((s,i)=>{
    g.append("circle").attr("cx",640).attr("cy",1091.5+27.3*i).attr("r",5.5).attr("fill",volcanoColors[i]).attr("opacity",.85);
    text(g,665,1091.5+27.3*i,s,{size:17.2,fill:"#111"});
  });
})();

/* D */
(function(){
  const g = svg.append("g");
  const unit = 574/10000;
  const X = d3.scaleLinear().domain([-366,10520]).range([1272-366*unit,1272+10520*unit]);
  const Y = d3.scaleLinear().domain([-6.28,6.05]).range([1067+6.28*49.6,1067-6.05*49.6]);
  dottedGrid(g,rankXTicks,rankYTicks,X,Y);
  const stops = rankColorStops.map((_,i)=>i/(rankColorStops.length-1));
  const color = d3.scaleLinear().domain(stops).range(rankColorStops);
  const area = d3.scaleLinear().domain([0,5.8]).range([100,309]);
  const rad = v=>Math.sqrt(area(Math.abs(v)));
  const n = rankValues.length, tail = n-rankTailP.length;
  const dots = rankValues.map((r,i)=>({r,v:rankLfc[i],
    p: i>=tail ? rankTailP[i-tail] : pDigitValues[+rankPDigits[i%rankPDigits.length]]}));
  g.append("g").selectAll("circle").data(dots).join("circle").attr("cx",d=>X(d.r)).attr("cy",d=>Y(d.v)).attr("r",d=>rad(d.v))
    .attr("fill",d=>color(d.p)).attr("opacity",d=>Math.abs(d.v)>4.4?.85:.5);
  axes(g,X,Y,rankXTicks,rankYTicks,{xAt:1388,yAt:1245,tick:0,padX:5,padY:10,size:17,fill:"#4d4d4d",line:false});
  text(g,1559,746,"Gene Ranking Dotplot",{size:22.4,bold:true,anchor:"middle",fill:TEAL});
  text(g,1559,1426,"Ranking of Differentially Expressed Genes",{size:19.8,bold:true,anchor:"middle",fill:TEAL});
  text(g,1200,1077,"Log2 Fold Change",{size:20,bold:true,anchor:"middle",fill:TEAL,rotate:-90});
  text(g,1905,900,"Log2 Fold Change",{size:17.5,bold:true,fill:"#111"});
  const legY = [930,961,995,1032,1071];
  sizeLegendValues.forEach((v,i)=>{
    g.append("circle").attr("cx",1925).attr("cy",legY[i]).attr("r",rad(v)).attr("fill","#333");
    text(g,1958,legY[i],v,{size:14,anchor:"middle",fill:"#111"});
  });
  text(g,1905,1140,"Adjusted P\u2212value",{size:17,bold:true,fill:"#111"});
  const barY = d3.scaleLinear().domain([1,0]).range([1158,1266]);
  g.selectAll("rect.pbar").data(d3.range(0,1,.01)).join("rect").attr("class","pbar").attr("x",1904).attr("width",22)
    .attr("y",d=>barY(d+.01)).attr("height",d=>barY(d)-barY(d+.01)+.4).attr("fill",d=>color(d));
  pLegendTicks.forEach(t=>text(g,1935,barY(t),d3.format(".2f")(t),{size:14.5,fill:"#111"}));
})();
</script>
</body>
</html>
